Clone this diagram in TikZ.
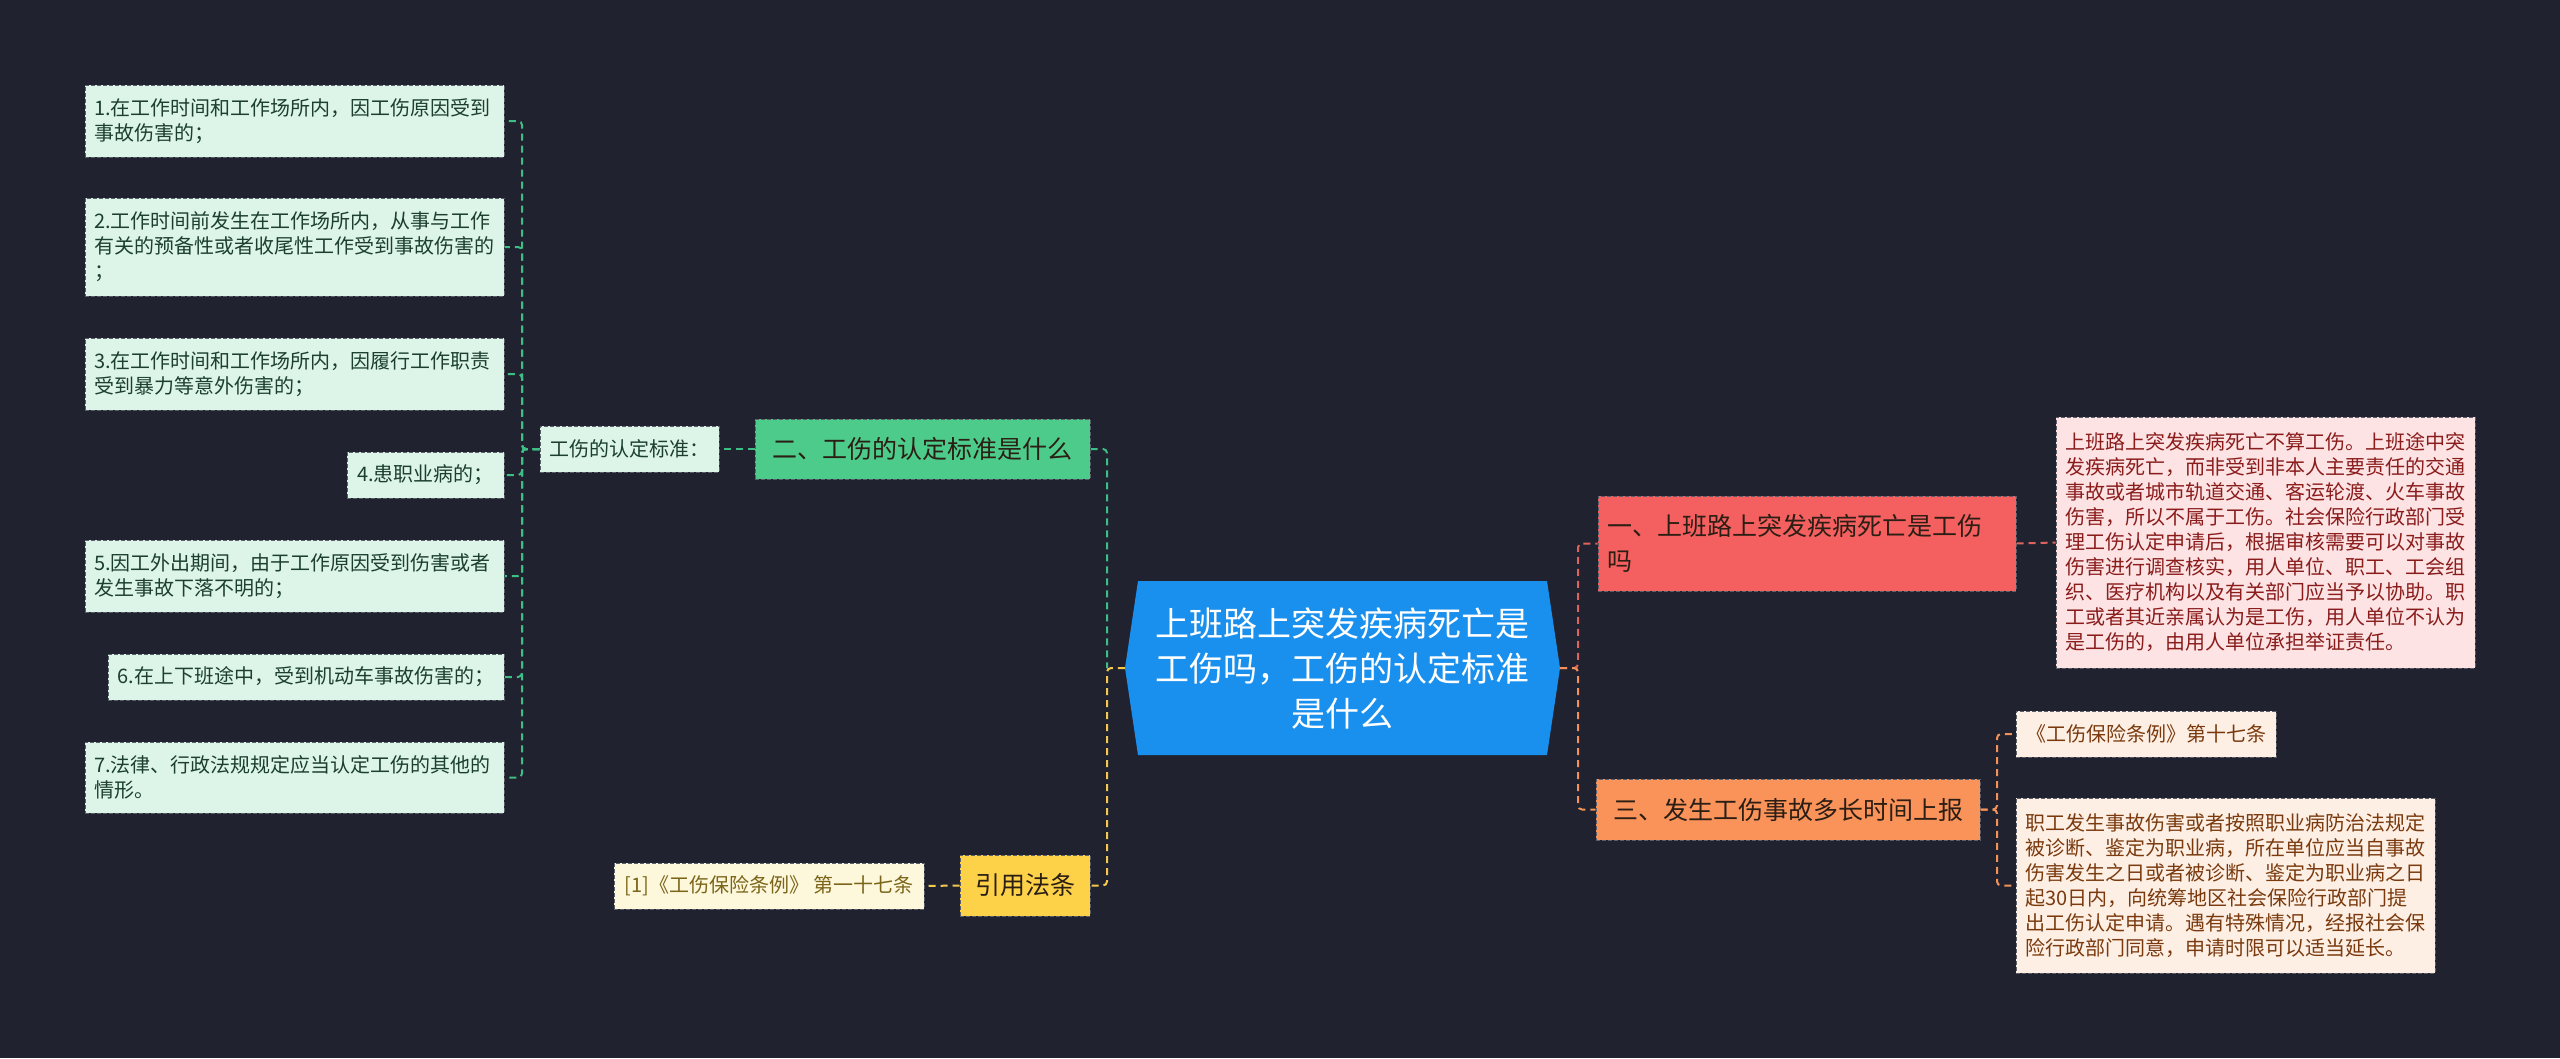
\documentclass[tikz,border=0pt]{standalone}
\usepackage{fontspec}
\setmainfont{Noto Sans CJK SC}
\definecolor{bg}{HTML}{20232F}
\definecolor{rootc}{HTML}{1A90EE}
\definecolor{gnode}{HTML}{4CCB8B}
\definecolor{gleaf}{HTML}{DDF5E9}
\definecolor{glinec}{HTML}{3DBE85}
\definecolor{gtext}{HTML}{1C3F2E}
\definecolor{rnode}{HTML}{F45F5F}
\definecolor{rleaf}{HTML}{FDE3E3}
\definecolor{rlinec}{HTML}{E0625D}
\definecolor{rtext}{HTML}{8A1C1C}
\definecolor{onode}{HTML}{FA935A}
\definecolor{oleaf}{HTML}{FDEFE4}
\definecolor{olinec}{HTML}{F39159}
\definecolor{otext}{HTML}{7A3A0E}
\definecolor{ynode}{HTML}{FDD249}
\definecolor{yleaf}{HTML}{FDF7DC}
\definecolor{ylinec}{HTML}{F2C94C}
\definecolor{ytext}{HTML}{7A6518}
\definecolor{dtext}{HTML}{2B1E14}
\definecolor{boxline}{HTML}{5A5E68}
\begin{document}
\begin{tikzpicture}[x=1pt,y=-1pt,
  box/.style={draw=boxline, dash pattern=on 4pt off 2pt, line width=1pt, inner xsep=9pt, inner ysep=0pt, align=left},
  leaf/.style={box, font=\fontsize{20}{25}\selectfont},
  big/.style={box, font=\fontsize{25}{35}\selectfont, text=dtext},
  conn/.style={line width=2pt, dash pattern=on 7pt off 5pt, rounded corners=4pt},
  gitem/.style={leaf, fill=gleaf, text=gtext},
]
\useasboundingbox (0,0) rectangle (2560,1058);
\fill[bg] (0,0) rectangle (2560,1058);

% root
\fill[rootc] (1125,668) -- (1138,581) -- (1547,581) -- (1560,668) -- (1547,755) -- (1138,755) -- cycle;
\node[minimum width=435pt, minimum height=174pt, inner sep=0pt, align=center, text=white,
  font=\fontsize{34}{45}\selectfont] (root) at (1342.5,668)
  {上班路上突发疾病死亡是\\工伤吗，工伤的认定标准\\是什么};

% left green branch
\node[gitem, text width=401pt, minimum height=72pt] (i1) at (294.5,121)
  {1.在工作时间和工作场所内，因工伤原因受到\\事故伤害的；};
\node[gitem, text width=401pt, minimum height=98pt] (i2) at (294.5,247)
  {2.工作时间前发生在工作场所内，从事与工作\\有关的预备性或者收尾性工作受到事故伤害的\\；};
\node[gitem, text width=401pt, minimum height=72pt] (i3) at (294.5,374)
  {3.在工作时间和工作场所内，因履行工作职责\\受到暴力等意外伤害的；};
\node[gitem, align=center, minimum width=157pt, minimum height=46pt] (i4) at (425.5,475)
  {4.患职业病的；};
\node[gitem, text width=401pt, minimum height=72pt] (i5) at (294.5,576)
  {5.因工外出期间，由于工作原因受到伤害或者\\发生事故下落不明的；};
\node[gitem, align=center, minimum width=396pt, minimum height=46pt] (i6) at (306,677)
  {6.在上下班途中，受到机动车事故伤害的；};
\node[gitem, text width=401pt, minimum height=71pt] (i7) at (294.5,777.5)
  {7.法律、行政法规规定应当认定工伤的其他的\\情形。};
\node[gitem, align=center, minimum width=179pt, minimum height=46pt] (std) at (629.5,449)
  {工伤的认定标准：};
\node[big, fill=gnode, align=center, minimum width=335pt, minimum height=60pt] (g2) at (922.5,449)
  {二、工伤的认定标准是什么};

% yellow branch
\node[big, fill=ynode, align=center, minimum width=130pt, minimum height=61pt] (yin) at (1025,885.5)
  {引用法条};
\node[leaf, fill=yleaf, text=ytext, align=center, minimum width=310pt, minimum height=46pt] (law1) at (769,886)
  {[1]《工伤保险条例》 第一十七条};

% red branch
\node[big, fill=rnode, text width=400pt, minimum height=95pt] (r1) at (1807,543.5)
  {一、上班路上突发疾病死亡是工伤\\吗};
\node[leaf, fill=rleaf, text=rtext, text width=401pt, minimum height=251pt] (pink) at (2265.5,542.5)
  {上班路上突发疾病死亡不算工伤。上班途中突\\发疾病死亡，而非受到非本人主要责任的交通\\事故或者城市轨道交通、客运轮渡、火车事故\\伤害，所以不属于工伤。社会保险行政部门受\\理工伤认定申请后，根据审核需要可以对事故\\伤害进行调查核实，用人单位、职工、工会组\\织、医疗机构以及有关部门应当予以协助。职\\工或者其近亲属认为是工伤，用人单位不认为\\是工伤的，由用人单位承担举证责任。};

% orange branch
\node[big, fill=onode, align=center, minimum width=384pt, minimum height=61pt] (o3) at (1788,809.5)
  {三、发生工伤事故多长时间上报};
\node[leaf, fill=oleaf, text=otext, align=center, minimum width=260pt, minimum height=46pt] (law2) at (2146,734)
  {《工伤保险条例》第十七条};
\node[leaf, fill=oleaf, text=otext, text width=401pt, minimum height=175pt] (brown) at (2225.5,885.5)
  {职工发生事故伤害或者按照职业病防治法规定\\被诊断、鉴定为职业病，所在单位应当自事故\\伤害发生之日或者被诊断、鉴定为职业病之日\\起30日内，向统筹地区社会保险行政部门提\\出工伤认定申请。遇有特殊情况，经报社会保\\险行政部门同意，申请时限可以适当延长。};

% connectors
\coordinate (gt) at (522,449);
\foreach \n in {i1,i2,i3,i4,i5,i6,i7}
  \draw[conn, glinec] (std.west) -- (gt) |- (\n.east);
\draw[conn, glinec] (g2.west) -- (std.east);
\coordinate (lj) at (1107,668);
\draw[conn, glinec] (g2.east) -| (lj);
\draw[conn, ylinec] (root.west) -- (lj) |- (yin.east);
\draw[conn, ylinec] (yin.west) -- (law1.east);
\coordinate (rj) at (1578,668);
\draw[conn, rlinec] (root.east) -- (rj) |- (r1.west);
\draw[conn, olinec] (root.east) -- (rj) |- (o3.west);
\draw[conn, rlinec] (r1.east) -- (pink.west);
\coordinate (oj) at (1997,809.5);
\draw[conn, olinec] (o3.east) -- (oj) |- (law2.west);
\draw[conn, olinec] (o3.east) -- (oj) |- (brown.west);
\end{tikzpicture}
\end{document}
